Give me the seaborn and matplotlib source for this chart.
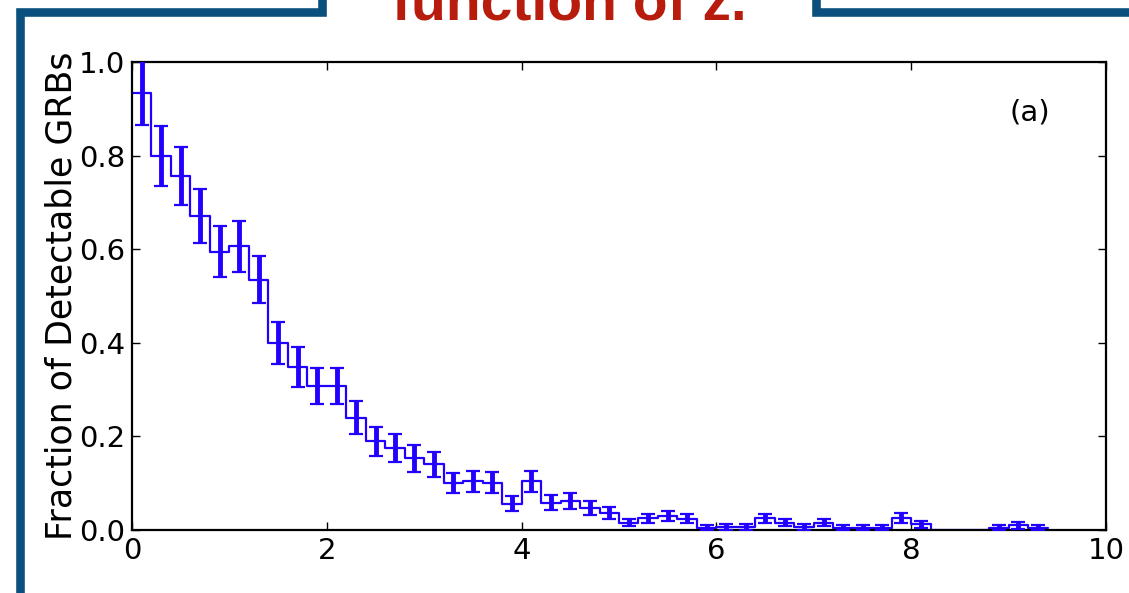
import numpy as np
import pandas as pd
import matplotlib
matplotlib.use("Agg")
import matplotlib.pyplot as plt
from matplotlib.lines import Line2D
import seaborn as sns

# Redshift bins (width 0.2, from z = 0 to 9.4)
bin_edges = [round(0.2 * i, 2) for i in range(48)]
bin_centers = [round(e + 0.1, 2) for e in bin_edges[:-1]]

# Fraction of detectable GRBs per redshift bin
fraction = [
    0.934, 0.800, 0.756, 0.671, 0.595, 0.606, 0.535, 0.400, 0.348, 0.308,
    0.308, 0.240, 0.190, 0.176, 0.153, 0.140, 0.100, 0.104, 0.101, 0.056,
    0.104, 0.058, 0.062, 0.046, 0.037, 0.016, 0.025, 0.030, 0.024, 0.005,
    0.007, 0.007, 0.025, 0.016, 0.006, 0.016, 0.005, 0.005, 0.005, 0.026,
    0.012, 0.0, 0.0, 0.0, 0.005, 0.010, 0.005,
]
# One-sigma uncertainties (NaN where the bin is empty)
frac_err = [
    0.068, 0.064, 0.062, 0.058, 0.055, 0.054, 0.051, 0.045, 0.042, 0.039,
    0.039, 0.035, 0.031, 0.030, 0.028, 0.026, 0.022, 0.022, 0.022, 0.016,
    0.022, 0.016, 0.017, 0.015, 0.013, 0.008, 0.010, 0.011, 0.010, 0.005,
    0.006, 0.006, 0.010, 0.008, 0.006, 0.008, 0.005, 0.005, 0.005, 0.011,
    0.008, np.nan, np.nan, np.nan, 0.005, 0.007, 0.005,
]

x_ticks = [0, 2, 4, 6, 8, 10]
y_ticks = [0.0, 0.2, 0.4, 0.6, 0.8, 1.0]

df = pd.DataFrame({"z": bin_centers, "frac": fraction, "err": frac_err})

sns.set_style("white")
plt.rcParams["font.family"] = ["DejaVu Sans"]
plt.rcParams["text.color"] = "black"
plt.rcParams["axes.labelcolor"] = "black"

W, H = 1129, 593
fig = plt.figure(figsize=(W / 100, H / 100), dpi=100)
ax = fig.add_axes([132 / W, 1 - 530 / H, (1106 - 132) / W, (530 - 62) / H])

blue = "#2200ff"

# Step outline of the binned fraction
sns.histplot(data=df, x="z", weights="frac", bins=bin_edges, element="step",
             fill=False, color=blue, linewidth=1.6, ax=ax)

# Error bars at bin centres
ok = df["err"].notna()
ax.errorbar(df.loc[ok, "z"], df.loc[ok, "frac"], yerr=df.loc[ok, "err"],
            fmt="none", ecolor=blue, elinewidth=3.5, capsize=5, capthick=1.6,
            zorder=3)

ax.set_xlim(0, 10)
ax.set_ylim(0, 1.0)
ax.set_xticks(x_ticks)
ax.set_yticks(y_ticks)
ax.set_xticklabels([str(t) for t in x_ticks])
ax.set_yticklabels([f"{t:.1f}" for t in y_ticks])
ax.set_xlabel("")
ax.set_ylabel("Fraction of Detectable GRBs", fontsize=25, labelpad=0,
              color="black")
ax.tick_params(axis="both", which="major", direction="in", length=6, width=1,
               labelsize=21, top=True, right=True, bottom=True, left=True,
               colors="black", pad=5)
for s in ax.spines.values():
    s.set_visible(True)
    s.set_color("black")
    s.set_linewidth(1.6)

ax.text(0.922, 0.893, "(a)", transform=ax.transAxes, fontsize=21,
        ha="center", va="center", color="black")

# Slide frame around the figure
frame_col = "#0b4f7e"
lw = 6.2
def px(x, y):
    return x / W, 1 - y / H
left = list(zip(*[px(20, 600), px(20, 12), px(322, 12), px(322, -5)]))
right = list(zip(*[px(816, -5), px(816, 12), px(1135, 12)]))
fig.add_artist(Line2D(left[0], left[1], color=frame_col, lw=lw,
                      solid_joinstyle="miter", transform=fig.transFigure))
fig.add_artist(Line2D(right[0], right[1], color=frame_col, lw=lw,
                      solid_joinstyle="miter", transform=fig.transFigure))

# Slide heading
fig.text(569 / W, 1 - 20 / H, "function of z.", color="#b81c0c",
         fontsize=41, fontweight="bold", ha="center", va="baseline",
         family=["Liberation Sans", "DejaVu Sans"])

fig.savefig("out.png", dpi=100)
